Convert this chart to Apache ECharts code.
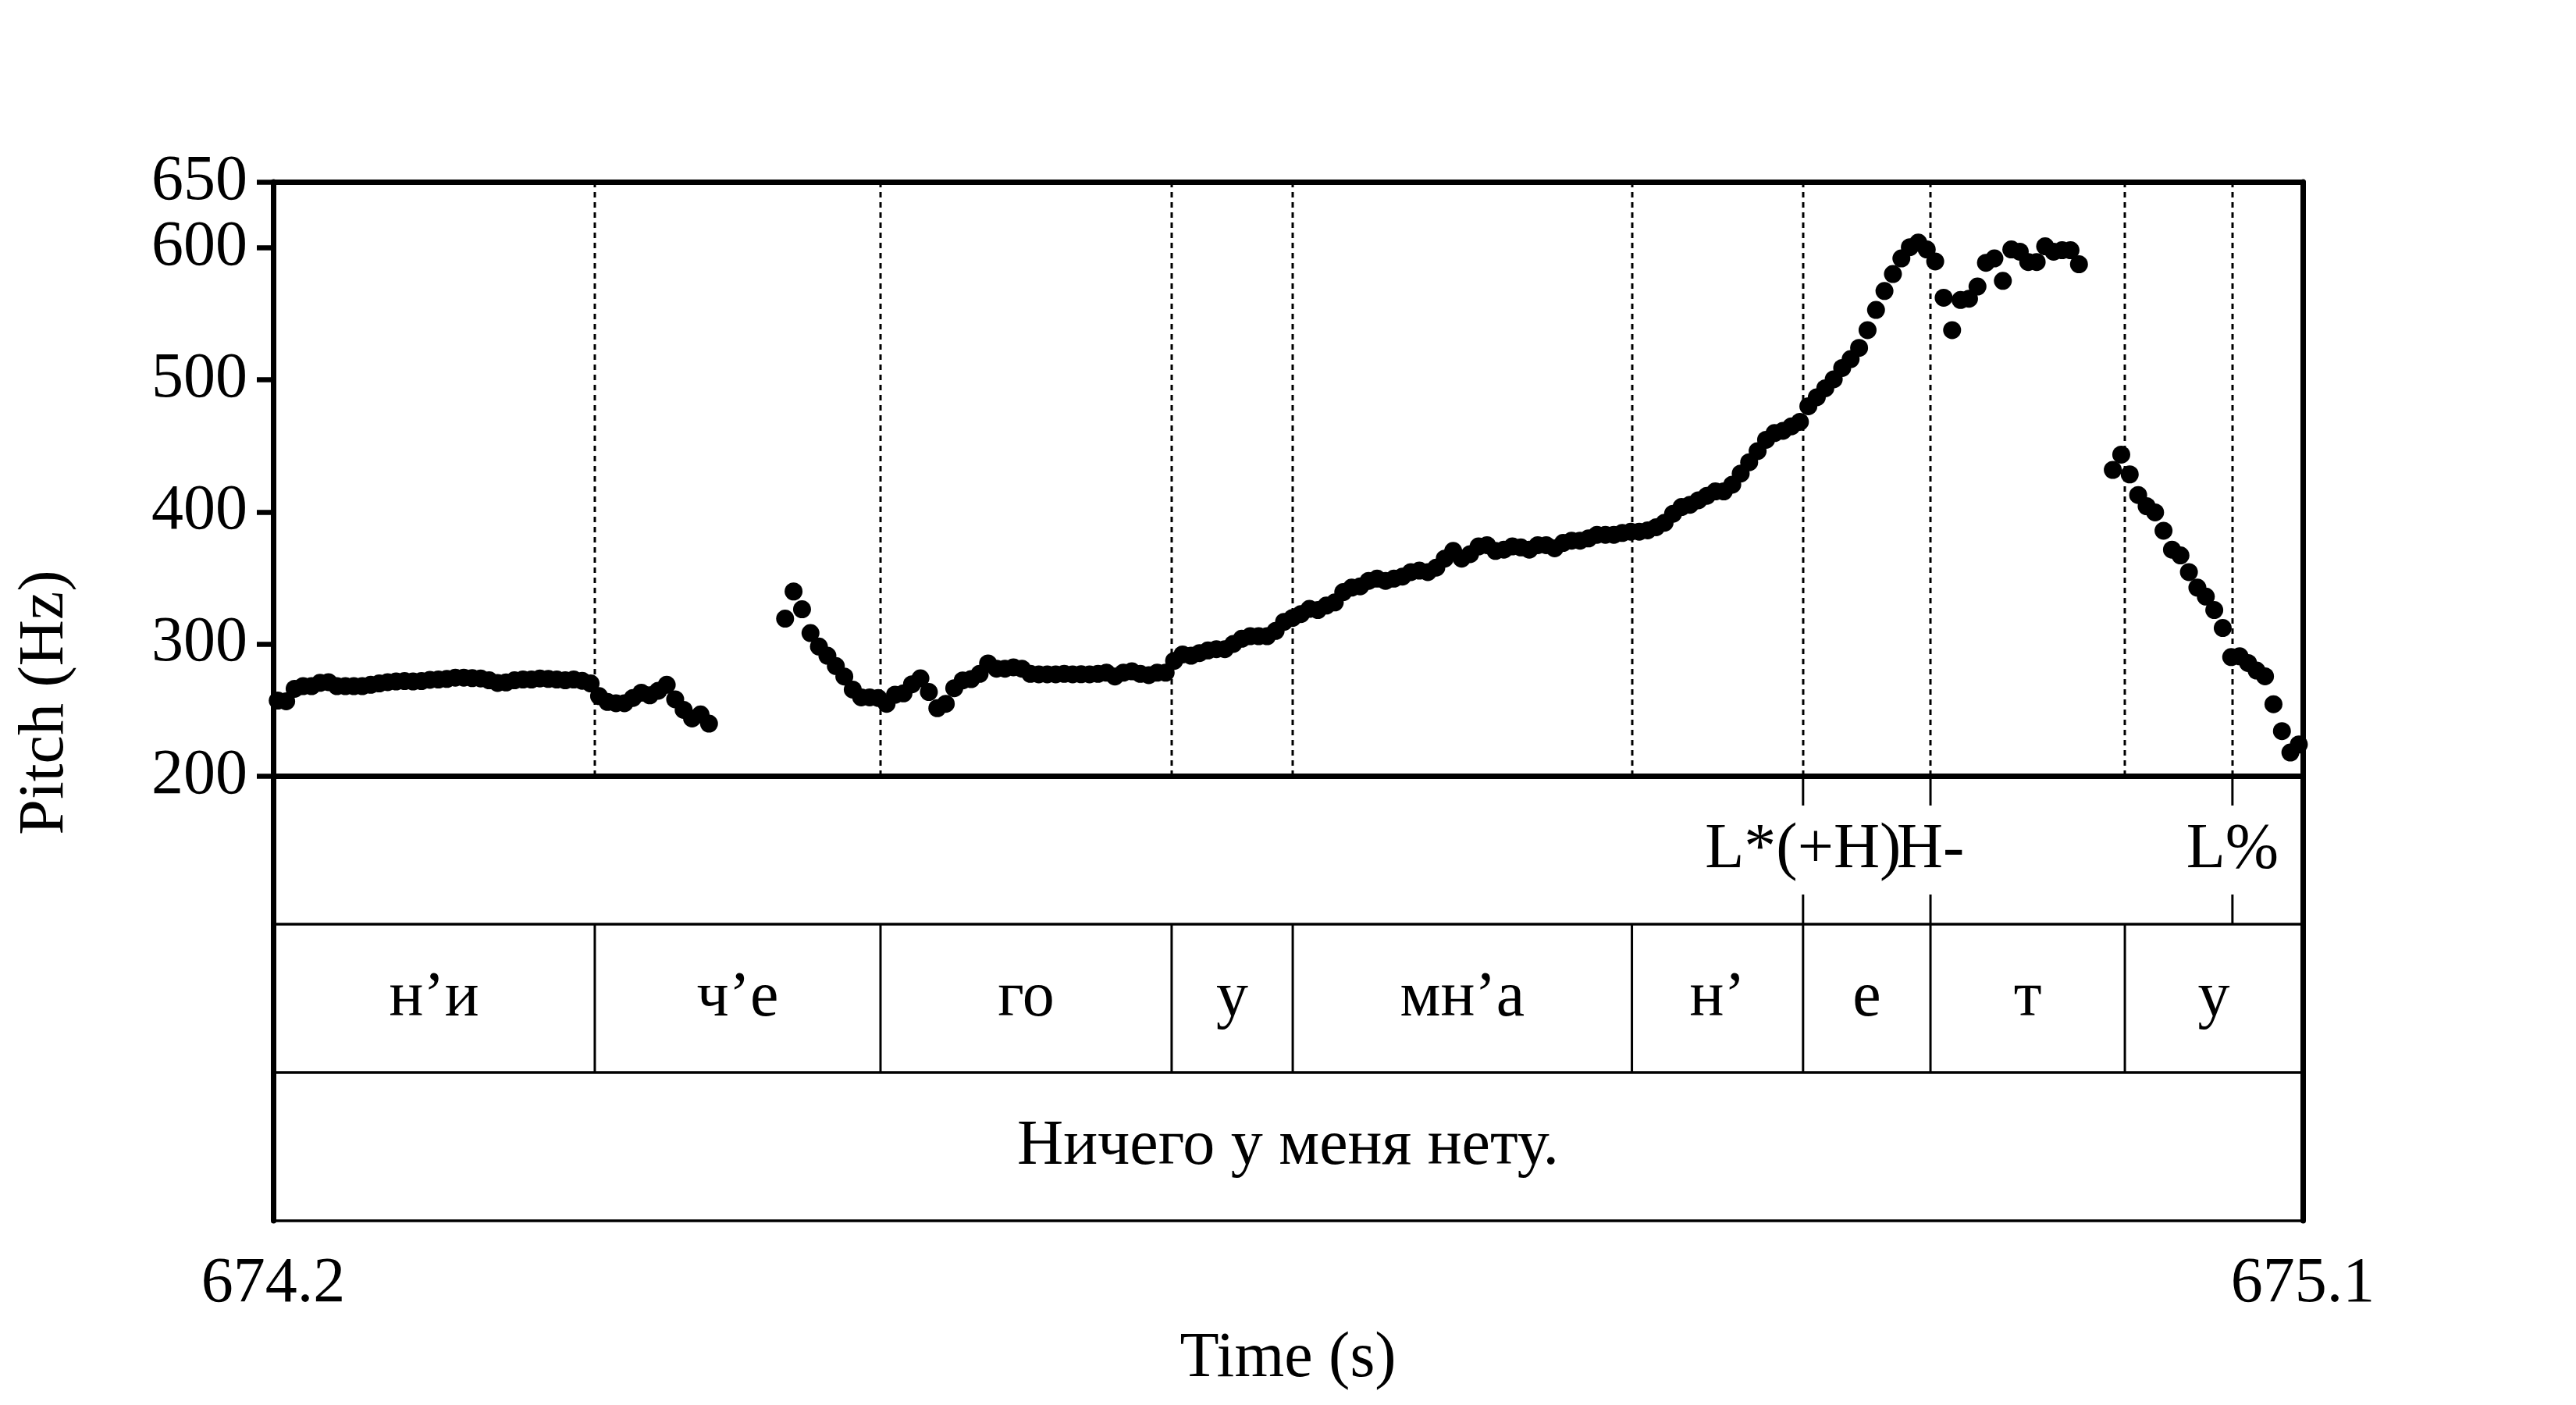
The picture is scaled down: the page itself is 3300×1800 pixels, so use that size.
<!DOCTYPE html>
<html>
<head>
<meta charset="utf-8">
<script src="https://cdn.jsdelivr.net/npm/echarts@6/dist/echarts.min.js"></script>
<style>
html,body{margin:0;padding:0;background:#fff;}
#chart{width:3300px;height:1800px;}
</style>
</head>
<body>
<div id="chart"></div>
<script>
// ---------- data ----------
const timeMin = 674.2;
const timeMax = 675.1;
const pitchMin = 200;
const pitchMax = 650;
const pitchTicks = [200, 300, 400, 500, 600, 650];
const timeTicks = [674.2, 675.1];

// pitch frames (Praat sampling step 0.00375 s); each voiced stretch: start time + values (Hz)
const pitchStep = 0.00375;
const seg1Start = 674.202;
const seg1Values = [257, 256.5, 266, 268, 268, 270.5, 271, 268, 268, 268, 268, 269, 270, 271, 271.5, 271.8, 271.5, 271.8, 272.8, 273,
  273.4, 274.4, 274.4, 274, 273.8, 272.4, 270.4, 270.8, 272.4, 273, 273, 273.8, 273.4, 273, 272.4, 273, 272, 270, 260.4, 256,
  255, 255, 259, 263, 261, 264.5, 269, 258, 250, 243.5, 246.5, 239.6];
const seg2Start = 674.427;
const seg2Values = [319.1, 339.7, 326.2, 308.2, 298, 291, 283.2, 275.3, 265.4, 259.5, 259.5, 259, 254.6, 261.5, 262.5, 269.4, 273.9, 263.5, 251.3, 254.6,
  266.4, 272.3, 273.3, 277.3, 285.2, 281.2, 281.2, 282.2, 281.2, 277.3, 276.9, 276.9, 276.9, 277.3, 276.9, 277, 276.9, 277.3, 278.2, 275.3,
  278.2, 279.2, 277.3, 276.3, 278.2, 278.2, 287.1, 292, 291, 293, 295, 296, 296, 300, 303.9, 305.8, 305.8, 305.8, 309.8, 316.7,
  319.6, 322.6, 326.5,
  325.6, 329, 331.4, 339.2, 342.6, 343.6, 347.7, 349.4, 347.7, 349.4, 351, 354.4, 355.5, 354.4, 357.8, 364.6, 370.4, 364.6, 368, 373.8,
  374.8, 370.4, 371.4, 373.8, 373.1, 371.4, 374.8, 374.8, 372.4, 376.5, 378.2, 378.2, 379.9, 382.6, 382.6, 382.6, 384, 385, 385, 386,
  388.4, 391.8, 398.6, 403.7, 405.4, 408.8, 412.2, 415.5,
  415.5, 420.6, 429, 437.6, 446, 454.6, 459.7, 461.4, 464.8, 468.2, 480, 486.8, 493.6, 500.4, 509, 515.7, 524.2, 537.7, 553, 567.3,
  580.2, 592, 600.5, 604, 598.8, 589.7, 562.2, 537.7, 560.5, 561.5, 570.7, 588.7, 592, 575, 598.8, 597.1, 589.3, 589.3, 601.2, 597.1,
  598.2, 598.2, 587.6];
const seg3Start = 675.01575;
const seg3Values = [431.8, 443.4, 428.4, 412.8, 404.3, 399.6, 385.7, 371.4, 367, 354.4, 342.6, 335.8, 325.6, 312, 290, 290.6, 285.5, 279.8, 275.4, 254.3,
  233.9, 217.7, 223.8];

// TextGrid
const syllableBounds = [674.2, 674.3426, 674.4693, 674.5984, 674.6521, 674.8025, 674.8784, 674.9349, 675.0211, 675.1];
const syllableLabels = ['н’и', 'ч’е', 'го', 'у', 'мн’а', 'н’', 'е', 'т', 'у'];
const tonePoints = [674.8784, 674.9349, 675.0688];
const toneLabels = ['L*(+H)', 'H-', 'L%'];
const sentenceLabel = 'Ничего у меня нету.';
const boundaryMarks = [674.3426, 674.4693, 674.5984, 674.6521, 674.8025, 674.8784, 674.9349, 675.0211, 675.0688];

// ---------- build ----------
const FONT = "'Liberation Serif', 'DejaVu Serif', serif";
const FS = 82;
function segPoints(start, vals) { return vals.map((v, i) => [start + i * pitchStep, v]); }
const pitchData = [].concat(segPoints(seg1Start, seg1Values), segPoints(seg2Start, seg2Values), segPoints(seg3Start, seg3Values));

const chart = echarts.init(document.getElementById('chart'), null, {renderer: 'canvas'});
const L = 350, R = 350;
const option = {
  animation: false,
  backgroundColor: '#fff',
  grid: [
    {left: L, right: R, top: 233, height: 761},
    {left: L, right: R, top: 994, height: 570}
  ],
  xAxis: [
    {gridIndex: 0, type: 'value', min: timeMin, max: timeMax, position: 'top',
      axisLine: {show: true, lineStyle: {color: '#000', width: 7}},
      axisTick: {show: false}, axisLabel: {show: false}, splitLine: {show: false}},
    {gridIndex: 1, type: 'value', min: timeMin, max: timeMax, position: 'bottom',
      axisLine: {show: true, lineStyle: {color: '#000', width: 7}},
      axisTick: {show: true, customValues: timeTicks, length: 21, lineStyle: {color: '#000', width: 7}},
      axisLabel: {show: true, customValues: timeTicks, margin: 40, color: '#000', fontSize: FS, fontFamily: FONT,
        formatter: v => v.toFixed(1)},
      splitLine: {show: false},
      name: 'Time (s)', nameLocation: 'middle', nameGap: 136,
      nameTextStyle: {color: '#000', fontSize: FS, fontFamily: FONT}}
  ],
  yAxis: [
    {gridIndex: 0, type: 'value', min: pitchMin, max: pitchMax, position: 'left',
      axisLine: {show: true, lineStyle: {color: '#000', width: 7}},
      axisTick: {show: true, customValues: pitchTicks, length: 21, lineStyle: {color: '#000', width: 6.5}},
      axisLabel: {show: true, customValues: pitchTicks, margin: 33, color: '#000', fontSize: FS, fontFamily: FONT},
      splitLine: {show: false}},
    {gridIndex: 0, type: 'value', min: pitchMin, max: pitchMax, position: 'right',
      axisLine: {show: true, lineStyle: {color: '#000', width: 7}},
      axisTick: {show: false}, axisLabel: {show: false}, splitLine: {show: false}},
    {gridIndex: 1, type: 'value', min: 0, max: 3, interval: 1, inverse: true, position: 'left',
      axisLine: {show: true, lineStyle: {color: '#000', width: 7}},
      axisTick: {show: false}, axisLabel: {show: false},
      splitLine: {show: true, lineStyle: {color: '#000', width: 3.5}}},
    {gridIndex: 1, type: 'value', min: 0, max: 3, inverse: true, position: 'right',
      axisLine: {show: true, lineStyle: {color: '#000', width: 7}},
      axisTick: {show: false}, axisLabel: {show: false}, splitLine: {show: false}}
  ],
  graphic: [
    {type: 'text', x: 58, y: 900, rotation: Math.PI / 2,
      style: {text: 'Pitch (Hz)', fill: '#000', fontSize: FS, fontFamily: FONT, align: 'center', verticalAlign: 'middle'}}
  ],
  series: [
    // dotted boundary lines through the pitch panel
    {type: 'custom', xAxisIndex: 0, yAxisIndex: 0, silent: true, z: 2,
      data: boundaryMarks.map(t => [t]),
      encode: {x: 0},
      renderItem: function (params, api) {
        const t = api.value(0);
        const a = api.coord([t, pitchMax]), b = api.coord([t, pitchMin]);
        return {type: 'line', shape: {x1: Math.round(a[0]), y1: a[1], x2: Math.round(b[0]), y2: b[1]},
          style: {stroke: '#000', lineWidth: 3, lineDash: [7, 6]}};
      }},
    {type: 'scatter', xAxisIndex: 0, yAxisIndex: 0, data: pitchData, symbol: 'circle', symbolSize: 23,
      itemStyle: {color: '#000', opacity: 1}, silent: true, clip: false, z: 5},
    {type: 'custom', xAxisIndex: 1, yAxisIndex: 2, silent: true,
      data: syllableLabels.map((s, i) => [syllableBounds[i], syllableBounds[i + 1]]),
      encode: {x: [0, 1]},
      renderItem: function (params, api) {
        const s = api.value(0), e = api.value(1);
        const children = [];
        if (s > timeMin + 1e-6) {
          const a = api.coord([s, 1]), b = api.coord([s, 2]);
          children.push({type: 'line', shape: {x1: a[0], y1: a[1], x2: b[0], y2: b[1]}, style: {stroke: '#000', lineWidth: 3}});
        }
        const c = api.coord([(s + e) / 2, 1.5]);
        children.push({type: 'text', style: {text: syllableLabels[params.dataIndex], x: c[0], y: c[1], align: 'center', verticalAlign: 'middle',
          fill: '#000', fontSize: FS, fontFamily: FONT}});
        return {type: 'group', children: children};
      }},
    {type: 'custom', xAxisIndex: 1, yAxisIndex: 2, silent: true,
      data: tonePoints.map(t => [t, 0]),
      encode: {x: 0},
      renderItem: function (params, api) {
        const t = api.value(0);
        const a = api.coord([t, 0]), b = api.coord([t, 1]), c = api.coord([t, 0.5]);
        return {type: 'group', children: [
          {type: 'line', shape: {x1: a[0], y1: a[1], x2: a[0], y2: a[1] + 38}, style: {stroke: '#000', lineWidth: 3}},
          {type: 'line', shape: {x1: b[0], y1: b[1] - 38, x2: b[0], y2: b[1]}, style: {stroke: '#000', lineWidth: 3}},
          {type: 'text', style: {text: toneLabels[params.dataIndex], x: c[0], y: c[1], align: 'center', verticalAlign: 'middle',
            fill: '#000', fontSize: FS, fontFamily: FONT}}
        ]};
      }},
    {type: 'custom', xAxisIndex: 1, yAxisIndex: 2, silent: true,
      data: [[timeMin, timeMax]],
      encode: {x: [0, 1]},
      renderItem: function (params, api) {
        const c = api.coord([(api.value(0) + api.value(1)) / 2, 2.5]);
        return {type: 'text', style: {text: sentenceLabel, x: c[0], y: c[1], align: 'center', verticalAlign: 'middle',
          fill: '#000', fontSize: FS, fontFamily: FONT}};
      }}
  ]
};
chart.setOption(option);
</script>
</body>
</html>
